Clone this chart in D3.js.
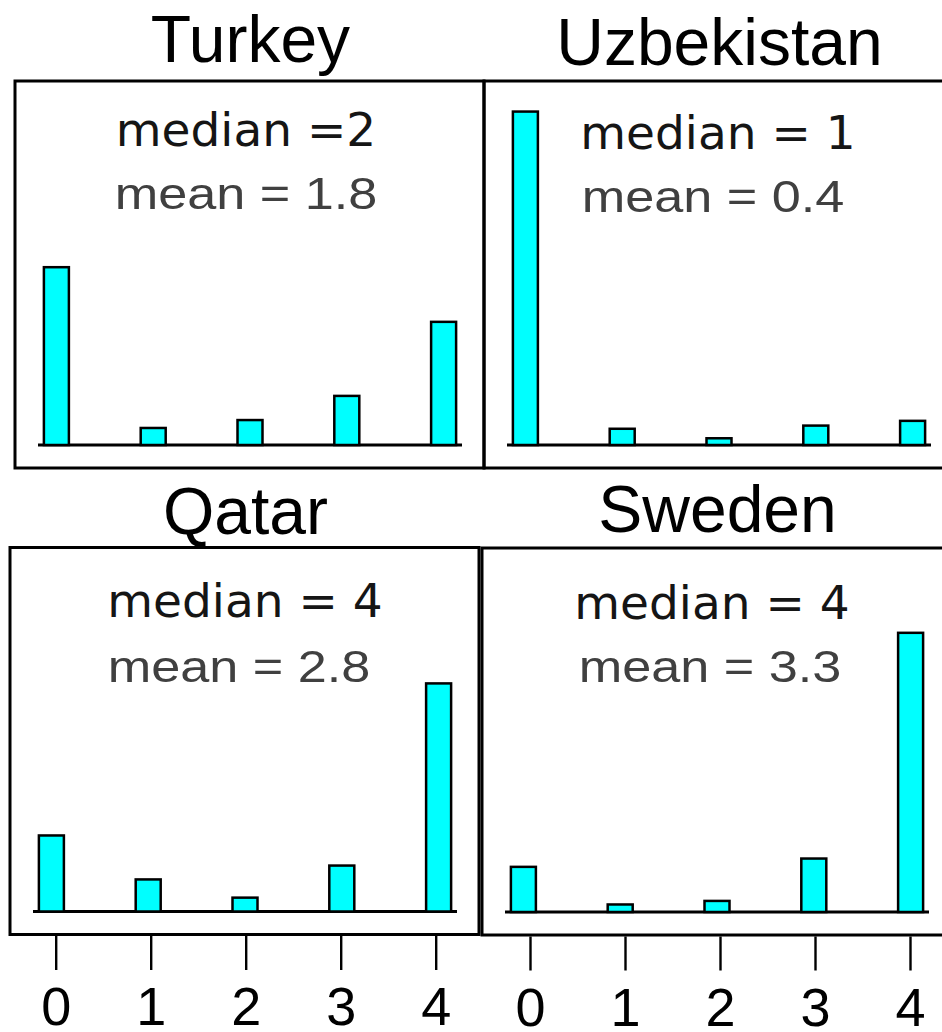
<!DOCTYPE html>
<html>
<head>
<meta charset="utf-8">
<script src="https://cdn.jsdelivr.net/npm/d3@7"></script>
<style>
  html, body { margin: 0; padding: 0; background: #fff; }
  svg { display: block; }
</style>
</head>
<body>
<svg id="chart" width="942" height="1032"></svg>
<script>
// Response categories (0..4) and the share of answers (%) in each country
const categories = [0, 1, 2, 3, 4];
const tickLabels = ["0", "1", "2", "3", "4"];
const countries = ["Turkey", "Uzbekistan", "Qatar", "Sweden"];
const turkey = [44.9, 4.3, 6.3, 12.4, 31.1];
const uzbekistan = [84.2, 4.1, 1.7, 4.9, 6.1];
const qatar = [19.2, 8.1, 3.5, 11.6, 57.6];
const sweden = [11.4, 1.9, 2.8, 13.5, 70.5];
const medianLabels = ["median =2", "median = 1", "median = 4", "median = 4"];
const meanLabels = ["mean = 1.8", "mean = 0.4", "mean = 2.8", "mean = 3.3"];

const seriesValues = [turkey, uzbekistan, qatar, sweden];

// Panel frames: 2 x 2 lattice, right column runs past the page edge
const panelW = 469, panelH = 387;
const frames = [
  { x: 15,  y: 81,    titleDy: -19, medDx: 231, medDy: 64.5, meanDx: 231, meanDy: 127.5 },
  { x: 484, y: 81,    titleDy: -16, medDx: 234, medDy: 67.5, meanDx: 229, meanDy: 131 },
  { x: 10,  y: 547.5, titleDy: -14, medDx: 235, medDy: 69.5, meanDx: 229, meanDy: 134 },
  { x: 482, y: 548,   titleDy: -16, medDx: 230, medDy: 71,   meanDx: 228, meanDy: 133.5 }
];

const svg = d3.select("#chart");

// Shared vertical scale: percent -> pixel height
const y = d3.scaleLinear().domain([0, 100]).range([0, 396]);
const barW = 25;

countries.forEach((name, i) => {
  const f = frames[i];
  const g = svg.append("g").attr("transform", `translate(${f.x},${f.y})`);
  const baseY = panelH - 23;

  // strip title above the frame
  g.append("text")
    .attr("x", 235.5)
    .attr("y", f.titleDy)
    .attr("text-anchor", "middle")
    .attr("font-family", "'Liberation Sans', Arial, sans-serif")
    .attr("font-size", 66)
    .attr("fill", "#000")
    .text(name);

  // frame
  g.append("rect")
    .attr("x", 0).attr("y", 0)
    .attr("width", panelW).attr("height", panelH)
    .attr("fill", "none")
    .attr("stroke", "#000")
    .attr("stroke-width", 3);

  // category positions inside the frame
  const x = d3.scalePoint()
    .domain(categories)
    .range([23, 447])
    .padding(0.19);

  // baseline
  g.append("line")
    .attr("x1", 23).attr("x2", 447)
    .attr("y1", baseY).attr("y2", baseY)
    .attr("stroke", "#000")
    .attr("stroke-width", 3);

  // bars
  g.selectAll("rect.bar")
    .data(seriesValues[i])
    .join("rect")
    .attr("class", "bar")
    .attr("x", (d, k) => x(categories[k]) - barW / 2)
    .attr("y", d => baseY - y(d))
    .attr("width", barW)
    .attr("height", d => y(d))
    .attr("fill", "#00FFFF")
    .attr("stroke", "#000")
    .attr("stroke-width", 2.5);

  // summary statistics
  g.append("text")
    .attr("x", f.medDx)
    .attr("y", f.medDy)
    .attr("text-anchor", "middle")
    .attr("font-family", "'DejaVu Sans', sans-serif")
    .attr("font-size", 47)
    .attr("fill", "#151515")
    .text(medianLabels[i]);

  g.append("text")
    .attr("transform", `translate(${f.meanDx},${f.meanDy}) scale(1.16,1)`)
    .attr("text-anchor", "middle")
    .attr("font-family", "'Liberation Sans', Arial, sans-serif")
    .attr("font-size", 45)
    .attr("fill", "#404040")
    .text(meanLabels[i]);

  // bottom axis under the lower row
  if (i >= 2) {
    const off = i === 2 ? 45.7 : 48;
    const ax = d3.scaleLinear()
      .domain([0, 4])
      .range([off, off + 380]);
    const axis = d3.axisBottom(ax)
      .tickValues(categories)
      .tickFormat((d, k) => tickLabels[k])
      .tickSize(34)
      .tickPadding(17);
    const axG = g.append("g")
      .attr("transform", `translate(0,${panelH + 1.5})`)
      .call(axis);
    axG.select(".domain").remove();
    axG.selectAll(".tick line")
      .attr("stroke", "#000")
      .attr("stroke-width", 2.4);
    axG.selectAll(".tick text")
      .attr("font-family", "'Liberation Sans', Arial, sans-serif")
      .attr("font-size", 54)
      .attr("fill", "#000");
  }
});
</script>
</body>
</html>
